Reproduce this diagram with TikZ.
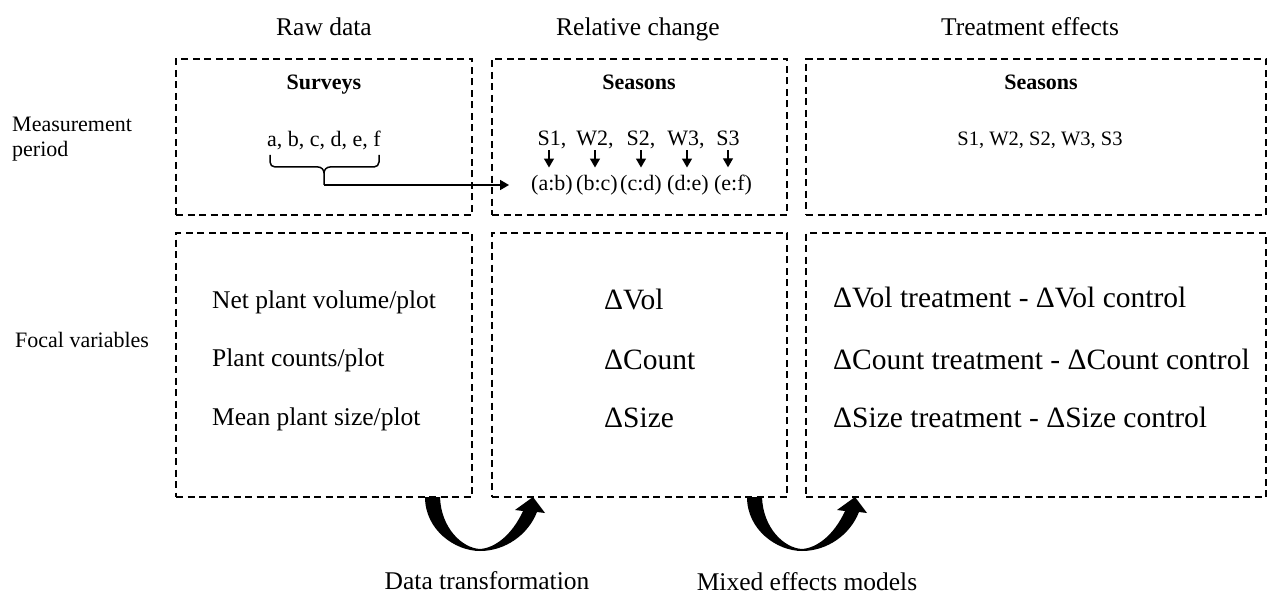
\documentclass[tikz,border=0pt]{standalone}
\usepackage{fontspec}
\setmainfont{Liberation Serif}
\usetikzlibrary{arrows.meta}
\tikzset{
  dbox/.style={draw, line width=1.3pt, dash pattern=on 7pt off 4.5pt, inner sep=0pt},
  ttl/.style={anchor=base, inner sep=0pt, font=\fontsize{25.5}{30}\selectfont},
  lab/.style={anchor=base west, inner sep=0pt, font=\fontsize{22}{26}\selectfont},
  hdr/.style={anchor=base, inner sep=0pt, font=\fontsize{22}{26}\selectfont\bfseries},
  sml/.style={anchor=base, inner sep=0pt, font=\fontsize{22}{26}\selectfont},
  body/.style={anchor=base west, inner sep=0pt, font=\fontsize{25.5}{30}\selectfont},
  dbody/.style={anchor=base west, inner sep=0pt, font=\fontsize{29.5}{34}\selectfont},
  sarrow/.style={line width=1.3pt, -{Triangle[length=9pt,width=10pt]}},
  brc/.style={line width=1.5pt},
  bigarrow/.pic={\fill (0,0) .. controls (0,33) and (30,54) .. (55,54)
      .. controls (80,54) and (103,38) .. (112,15) -- (120,16) -- (108,0) -- (90,13) -- (98,14)
      .. controls (87,38) and (70,51) .. (55,52)
      .. controls (37,51) and (16,31) .. (15,0) -- cycle;}
}
\begin{document}
\begin{tikzpicture}[x=1pt,y=-1pt]
\useasboundingbox (0,0) rectangle (1268,596);

% titles
\node[ttl] (t1) at (324,36) {Raw data};
\node[ttl] (t2) at (638,36) {Relative change};
\node[ttl] (t3) at (1030,36) {Treatment effects};

% row labels
\node[lab] (mp1) at (12,132) {Measurement};
\node[lab] (mp2) at (12,157) {period};
\node[lab] (fv) at (15,347) {Focal variables};

% boxes
\node[dbox, minimum width=296pt, minimum height=156pt] (b1t) at (324,137) {};
\node[dbox, minimum width=295pt, minimum height=156pt] (b2t) at (639.5,137) {};
\node[dbox, minimum width=460pt, minimum height=156pt] (b3t) at (1036,137) {};
\node[dbox, minimum width=296pt, minimum height=264pt] (b1b) at (324,365) {};
\node[dbox, minimum width=295pt, minimum height=264pt] (b2b) at (639.5,365) {};
\node[dbox, minimum width=460pt, minimum height=264pt] (b3b) at (1036,365) {};

% box 1 top
\node[hdr] (sv) at (324,90) {Surveys};
\node[sml] (abc) at (324,147) {a, b, c, d, e, f};
\coordinate (brtip) at (324,185);
\draw[brc] (270,155) -- (270,162) to[out=-90,in=180] (275,167) -- (318,167) to[out=0,in=90] (324,173) -- (brtip);
\draw[brc] (324,173) to[out=90,in=180] (330,167) -- (374,167) to[out=0,in=-90] (379,162) -- (379,155);

% box 2 top
\node[hdr] (se2) at (639,90) {Seasons};
\node[sml, text depth=3pt] (s1) at (552,146) {S1,};
\node[sml, text depth=3pt] (s2) at (595,146) {W2,};
\node[sml, text depth=3pt] (s3) at (641,146) {S2,};
\node[sml, text depth=3pt] (s4) at (686,146) {W3,};
\node[sml, text depth=3pt] (s5) at (728,146) {S3};
\node[sml] (p1) at (552,191) {(a:b)};
\node[sml] (p2) at (597,191) {(b:c)};
\node[sml] (p3) at (641,191) {(c:d)};
\node[sml] (p4) at (688,191) {(d:e)};
\node[sml] (p5) at (733,191) {(e:f)};
\foreach \i/\dx in {1/-3,2/-2,3/0,4/-1,5/-5}{
  \draw[sarrow, shorten <=1pt, shorten >=8pt] ([xshift=\dx pt]p\i.north |- s\i.south) -- ([xshift=\dx pt]p\i.north);
}
\draw[sarrow, line width=1.5pt, shorten >=22pt] (brtip) -- (brtip -| p1.west);

% box 3 top
\node[hdr] (se3) at (1041,90) {Seasons};
\node[sml, font=\fontsize{20.5}{24}\selectfont] (ss3) at (1040,146) {S1, W2, S2, W3, S3};

% bottom boxes
\node[body] (v1) at (212,308) {Net plant volume/plot};
\node[body] (v2) at (212,366) {Plant counts/plot};
\node[body] (v3) at (212,425) {Mean plant size/plot};

\node[dbody] (d1) at (604,309) {ΔVol};
\node[dbody] (d2) at (604,369) {ΔCount};
\node[dbody] (d3) at (604,427) {ΔSize};

\node[dbody] (e1) at (833,307) {ΔVol treatment - ΔVol control};
\node[dbody] (e2) at (833,369) {ΔCount treatment - ΔCount control};
\node[dbody] (e3) at (833,427) {ΔSize treatment - ΔSize control};

% curved arrows
\pic at (425,497) {bigarrow};
\pic at (747,497) {bigarrow};
\node[ttl] (dt) at (487,589) {Data transformation};
\node[ttl] (me) at (807,590) {Mixed effects models};
\end{tikzpicture}
\end{document}
